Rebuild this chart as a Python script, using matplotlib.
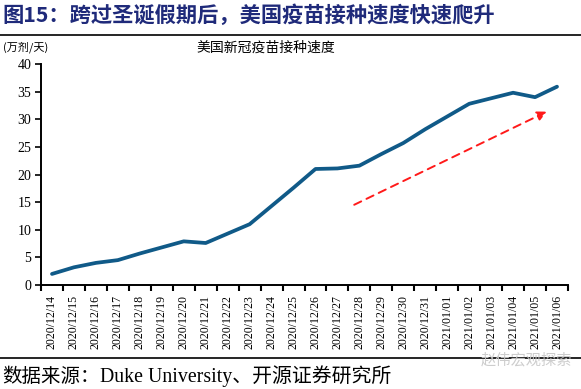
import matplotlib.pyplot as plt
from matplotlib.lines import Line2D

# daily vaccinations in the US, 10k doses/day
dates = ["2020/12/14", "2020/12/15", "2020/12/16", "2020/12/17", "2020/12/18",
         "2020/12/19", "2020/12/20", "2020/12/21", "2020/12/22", "2020/12/23",
         "2020/12/24", "2020/12/25", "2020/12/26", "2020/12/27", "2020/12/28",
         "2020/12/29", "2020/12/30", "2020/12/31", "2021/01/01", "2021/01/02",
         "2021/01/03", "2021/01/04", "2021/01/05", "2021/01/06"]
doses = [2.0, 3.2, 4.0, 4.5, 5.7, 6.8, 7.9, 7.6, 9.3, 11.0, 14.3, 17.6,
         21.0, 21.1, 21.6, 23.7, 25.7, 28.2, 30.5, 32.8, 33.8, 34.8, 34.0, 35.9]
yticks = [0, 5, 10, 15, 20, 25, 30, 35, 40]

# trend arrow (start/end in data coords)
arrow_start = (13.65, 14.3)
arrow_end = (22.65, 31.6)

CJK = ["Noto Sans CJK SC", "DejaVu Sans"]
SERIF = ["Liberation Serif", "Noto Sans CJK SC"]

fig = plt.figure(figsize=(5.81, 3.89), dpi=100)
ax = fig.add_axes([0.0706, 0.2674, 0.907, 0.568])

x = list(range(len(dates)))
ax.plot(x, doses, color="#105a88", lw=2.7, solid_capstyle="round", solid_joinstyle="round")

ax.annotate("", xy=arrow_end, xytext=arrow_start,
            arrowprops=dict(arrowstyle="-|>", color="#ff1a1a", lw=1.4,
                            linestyle=(0, (4, 3)), mutation_scale=14))

ax.set_xlim(-0.5, len(dates) - 0.5)
ax.set_ylim(0, 40)
ax.set_yticks(yticks)
ax.set_yticklabels([str(v) for v in yticks], family=SERIF, fontsize=10)

ax.set_xticks(x)
ax.set_xticklabels(dates, rotation=90, family=SERIF, fontsize=8.6)
ax.set_xticks([i - 0.5 for i in range(len(dates) + 1)], minor=True)
ax.tick_params(axis="x", which="major", length=0, pad=7)
ax.tick_params(axis="x", which="minor", length=4, width=1.5, direction="out")
ax.tick_params(axis="y", length=4, width=1.2, direction="out", pad=3)

for s in ["top", "right"]:
    ax.spines[s].set_visible(False)
for s in ["left", "bottom"]:
    ax.spines[s].set_linewidth(1.4)

# header / footer text
fig.text(0.004, 0.962, "图15：跨过圣诞假期后，美国疫苗接种速度快速爬升", family=CJK,
         fontsize=15.3, fontweight="bold", color="#1f2a7a", va="center", ha="left")
fig.add_artist(Line2D([0, 1], [0.91, 0.91], color="black", lw=1.2))
fig.text(0.006, 0.878, "(万剂/天)", family=CJK, fontsize=8, va="center", ha="left")
fig.text(0.458, 0.878, "美国新冠疫苗接种速度", family=CJK, fontsize=10, va="center", ha="center")

fig.add_artist(Line2D([0, 1], [0.08, 0.08], color="black", lw=1.2))
fig.text(0.004, 0.033, "数据来源：", family=CJK, fontsize=14, va="center", ha="left")
fig.text(0.172, 0.033, "Duke University、开源证券研究所", family=SERIF, fontsize=14.3,
         va="center", ha="left")
fig.text(0.985, 0.075, "赵伟宏观探索", family=CJK, fontsize=11, color="#c8c8c8",
         va="center", ha="right", alpha=0.9)

fig.savefig("out.png", dpi=100)
